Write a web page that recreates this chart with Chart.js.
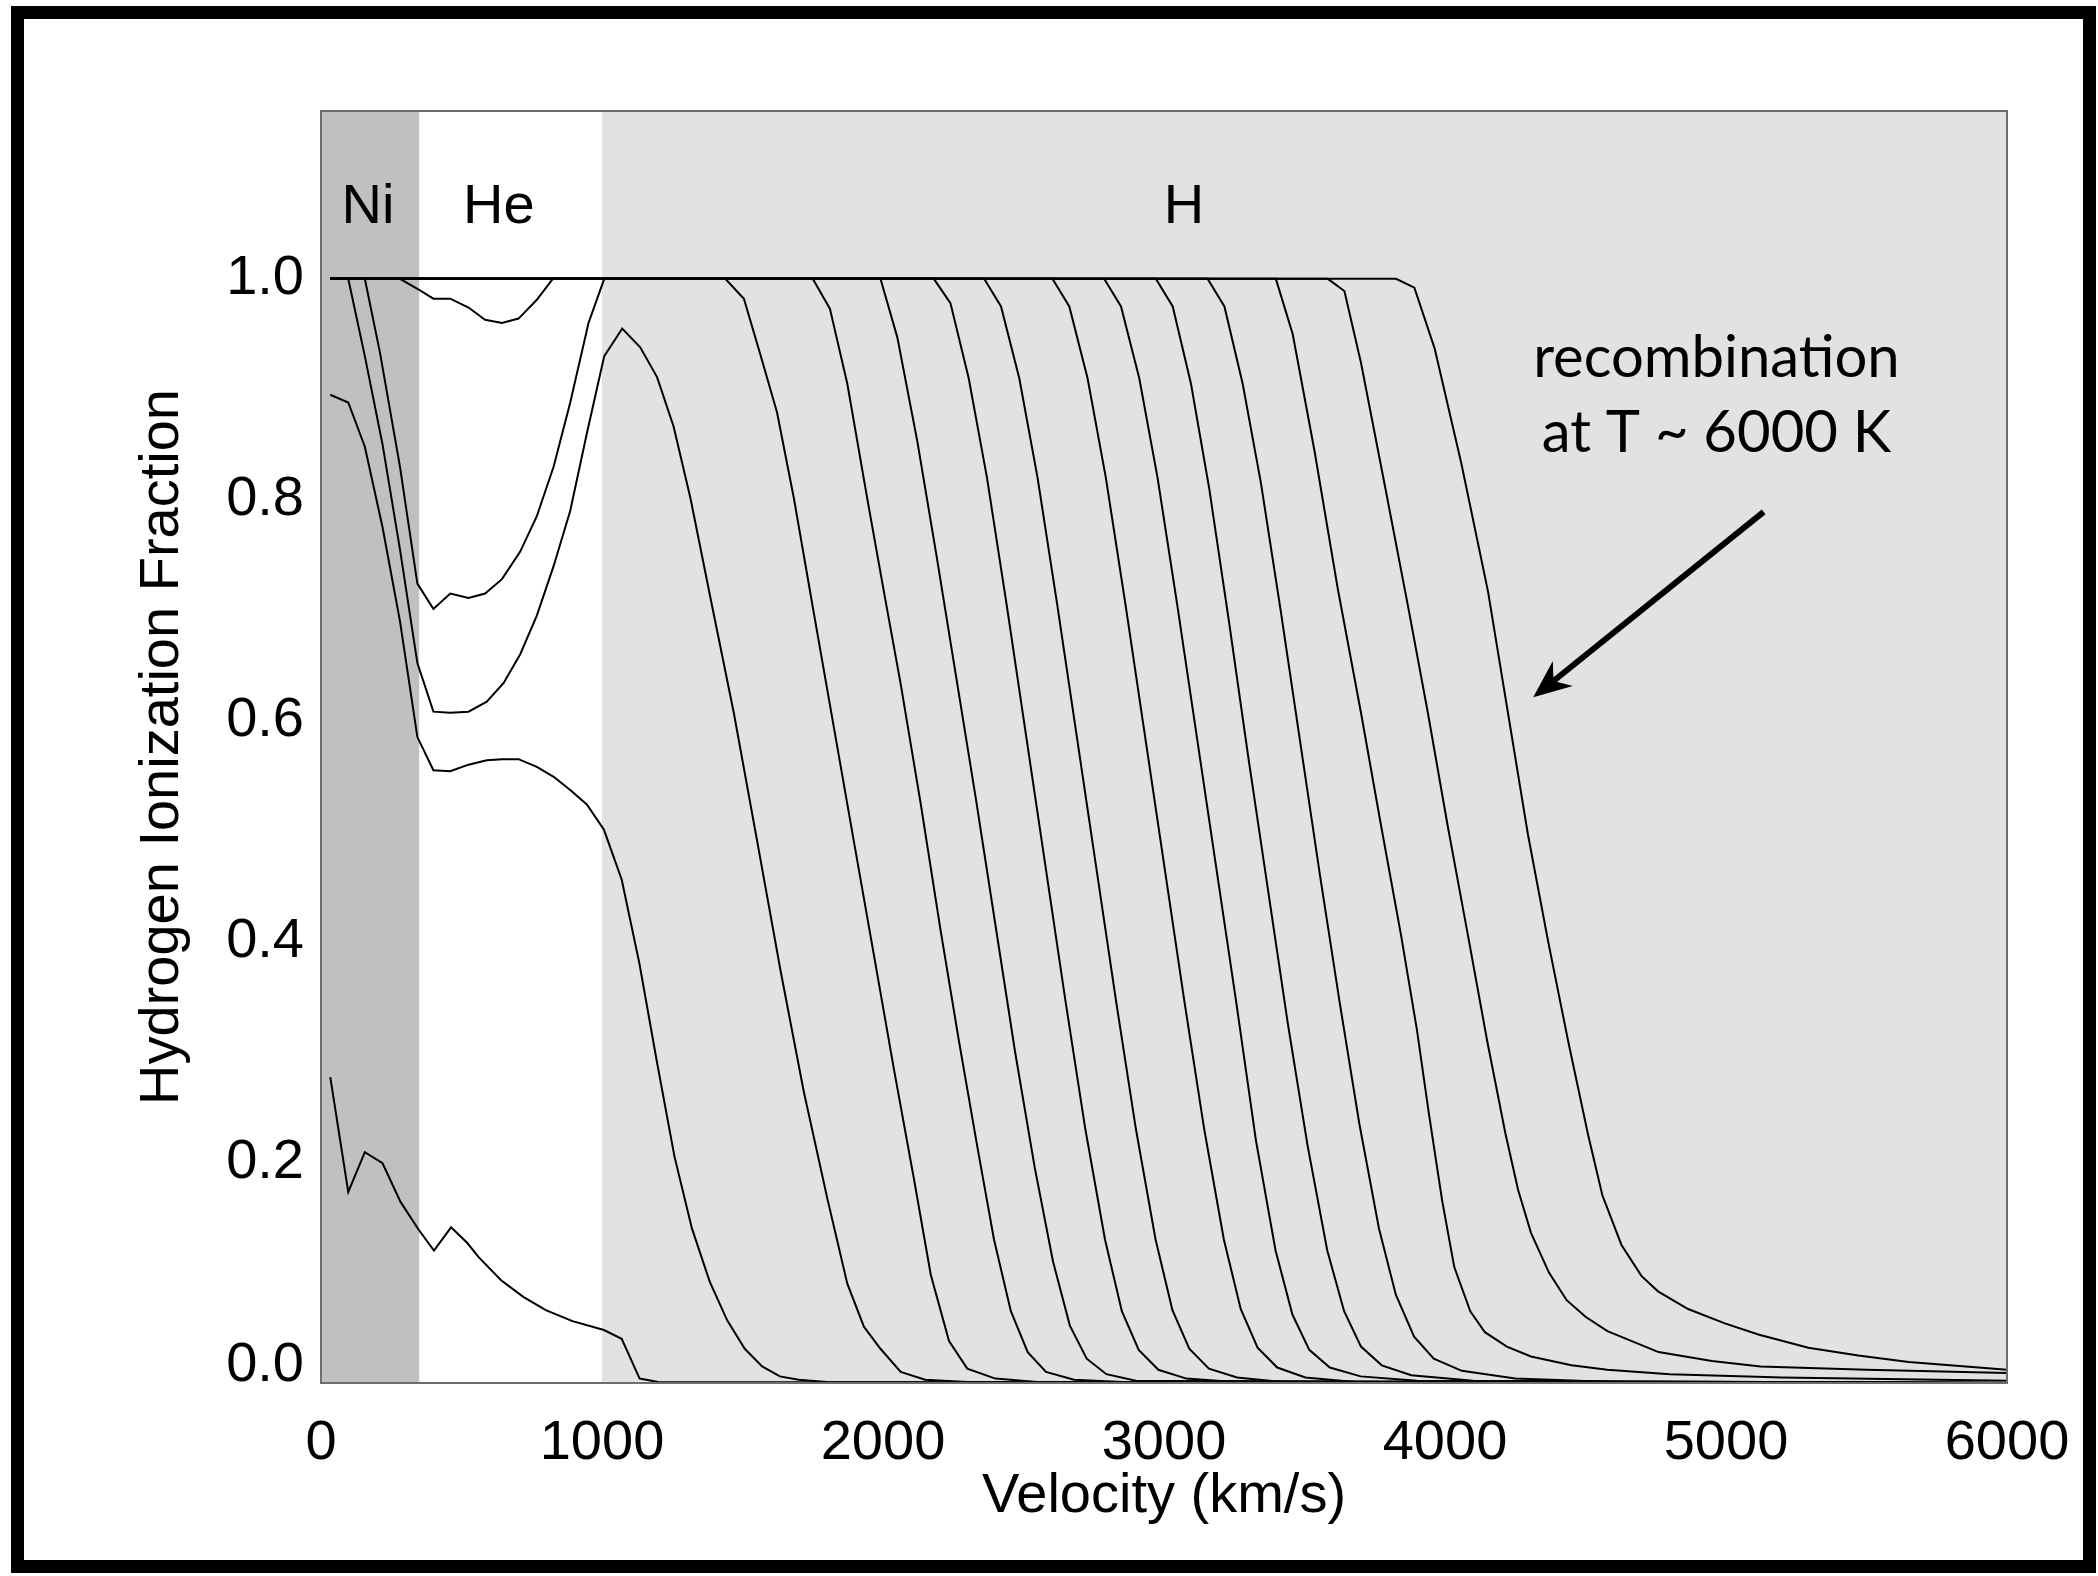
<!DOCTYPE html>
<html>
<head>
<meta charset="utf-8">
<script src="https://cdn.jsdelivr.net/npm/chart.js@4.4.1/dist/chart.umd.min.js"></script>
<style>
html,body{margin:0;padding:0;background:#fff;}
#wrap{position:absolute;left:0;top:0;width:2098px;height:1576px;}
canvas{display:block;}
</style>
</head>
<body>
<div id="wrap"><canvas id="c" width="2098" height="1576"></canvas></div>
<script>
// ---------------- data ----------------
const xTickValues = [0, 1000, 2000, 3000, 4000, 5000, 6000];
const yTickValues = [0, 0.2, 0.4, 0.6, 0.8, 1.0];

const regionNames = ['Ni', 'He', 'H'];
const regionStart = [0, 350, 1000];
const regionEnd   = [350, 1000, 6000];

// each curve: [velocity (km/s), hydrogen ionization fraction]
const curveA = [[33,0.277],[97,0.173],[156,0.209],[219,0.199],[283,0.164],[347,0.139],[402,0.120],[463,0.141],[520,0.127],[561,0.114],[641,0.093],[720,0.078],[800,0.066],[895,0.056],[1007,0.048],[1070,0.040],[1134,0.004],[1200,0.001],[6000,0]];
const curveB = [[33,0.895],[97,0.888],[156,0.848],[219,0.775],[281,0.69],[343,0.585],[400,0.555],[460,0.554],[525,0.560],[590,0.564],[644,0.565],[703,0.565],[768,0.558],[828,0.549],[887,0.537],[946,0.524],[1007,0.501],[1070,0.456],[1133,0.38],[1196,0.29],[1258,0.205],[1320,0.14],[1383,0.092],[1445,0.057],[1508,0.031],[1570,0.015],[1633,0.006],[1700,0.003],[1800,0.001],[6000,0]];
const curveC = [[33,1],[97,1],[156,0.93],[219,0.85],[281,0.755],[343,0.652],[400,0.608],[460,0.607],[525,0.608],[590,0.617],[650,0.634],[709,0.66],[768,0.695],[828,0.74],[887,0.79],[946,0.86],[1008,0.93],[1072,0.955],[1136,0.938],[1196,0.911],[1255,0.866],[1315,0.801],[1386,0.711],[1469,0.607],[1552,0.491],[1635,0.374],[1718,0.264],[1802,0.167],[1873,0.09],[1932,0.051],[1991,0.031],[2063,0.01],[2150,0.003],[2300,0.001],[6000,0]];
const curveH1 = [[33,1],[156,1],[210,0.933],[281,0.83],[343,0.724],[400,0.701],[460,0.715],[525,0.711],[584,0.715],[644,0.728],[709,0.753],[768,0.785],[828,0.83],[887,0.888],[952,0.96],[1008,1],[1439,1],[1505,0.982],[1564,0.931],[1623,0.879],[1683,0.801],[1754,0.697],[1825,0.594],[1896,0.491],[1968,0.387],[2039,0.284],[2110,0.185],[2170,0.098],[2235,0.038],[2300,0.013],[2400,0.004],[2550,0.001],[6000,0]];
const curveH2 = [[33,1],[281,1],[343,0.991],[400,0.982],[460,0.982],[525,0.974],[584,0.963],[644,0.96],[703,0.964],[768,0.981],[825,1],[1750,1],[1811,0.973],[1873,0.905],[1944,0.801],[2003,0.717],[2063,0.633],[2134,0.525],[2205,0.41],[2270,0.31],[2335,0.215],[2395,0.13],[2455,0.065],[2515,0.028],[2580,0.01],[2680,0.003],[2850,0.001],[6000,0]];
const curveH3 = [[33,1],[1991,1],[2051,0.947],[2122,0.853],[2190,0.75],[2260,0.64],[2330,0.53],[2400,0.415],[2470,0.30],[2540,0.195],[2605,0.11],[2665,0.052],[2725,0.022],[2795,0.008],[2900,0.002],[6000,0]];
const curveH4 = [[33,1],[2181,1],[2240,0.978],[2305,0.91],[2370,0.82],[2440,0.705],[2510,0.585],[2580,0.465],[2650,0.345],[2720,0.23],[2790,0.13],[2850,0.065],[2910,0.03],[2980,0.012],[3080,0.004],[3250,0.001],[6000,0]];
const curveH5 = [[33,1],[2360,1],[2420,0.975],[2485,0.91],[2550,0.82],[2620,0.705],[2690,0.585],[2760,0.465],[2830,0.345],[2900,0.23],[2970,0.13],[3030,0.066],[3090,0.031],[3160,0.013],[3260,0.005],[3420,0.001],[6000,0]];
const curveH6 = [[33,1],[2603,1],[2663,0.975],[2728,0.91],[2793,0.82],[2863,0.705],[2933,0.585],[3003,0.465],[3073,0.345],[3143,0.23],[3213,0.13],[3273,0.067],[3333,0.032],[3403,0.014],[3503,0.005],[3680,0.001],[6000,0]];
const curveH7 = [[33,1],[2787,1],[2847,0.975],[2912,0.91],[2977,0.82],[3047,0.705],[3117,0.585],[3187,0.465],[3257,0.345],[3327,0.22],[3397,0.12],[3457,0.062],[3517,0.03],[3590,0.014],[3700,0.006],[3900,0.002],[6000,0]];
const curveH8 = [[33,1],[2971,1],[3031,0.975],[3096,0.905],[3161,0.81],[3231,0.69],[3301,0.565],[3371,0.445],[3441,0.325],[3511,0.215],[3581,0.12],[3641,0.065],[3701,0.033],[3775,0.016],[3880,0.007],[4100,0.002],[6000,0]];
const curveH9 = [[33,1],[3155,1],[3215,0.975],[3280,0.905],[3345,0.815],[3415,0.70],[3485,0.58],[3555,0.46],[3625,0.345],[3695,0.235],[3765,0.14],[3825,0.08],[3890,0.042],[3960,0.022],[4060,0.011],[4250,0.004],[4600,0.001],[6000,0]];
const curveH10 = [[33,1],[3398,1],[3458,0.95],[3535,0.845],[3618,0.72],[3701,0.607],[3773,0.504],[3844,0.405],[3900,0.32],[3942,0.245],[3990,0.165],[4033,0.105],[4090,0.065],[4142,0.046],[4220,0.033],[4306,0.024],[4450,0.016],[4578,0.012],[4800,0.008],[5200,0.005],[6000,0.002]];
const curveH11 = [[33,1],[3583,1],[3642,0.989],[3701,0.924],[3785,0.814],[3868,0.704],[3939,0.607],[4010,0.504],[4082,0.405],[4150,0.31],[4215,0.226],[4260,0.175],[4306,0.136],[4370,0.10],[4433,0.075],[4500,0.06],[4578,0.047],[4760,0.028],[4950,0.02],[5123,0.015],[5500,0.012],[6000,0.009]];
const curveH12 = [[33,1],[3826,1],[3891,0.992],[3963,0.937],[4058,0.833],[4153,0.717],[4224,0.607],[4295,0.497],[4367,0.40],[4438,0.31],[4509,0.225],[4560,0.17],[4628,0.125],[4699,0.097],[4758,0.083],[4865,0.067],[4996,0.054],[5115,0.044],[5293,0.032],[5471,0.025],[5650,0.019],[6000,0.012]];

const curves = [curveA, curveB, curveC, curveH1, curveH2, curveH3, curveH4, curveH5, curveH6, curveH7, curveH8, curveH9, curveH10, curveH11, curveH12];

// ---------------- styling / layout ----------------
const SANS = '"Liberation Sans", Arial, Helvetica, sans-serif';
const HUMAN = 'Lato, "Open Sans", sans-serif';
const regionFill = ['#c0c0c0', '#ffffff', '#e2e2e2'];
const regionLabelX = [167, 633, 3071];   // label anchor (data units)
const regionLabelY = 1.051;
const noteLines = ['recombination', 'at T ~ 6000 K'];
const noteX = 4966, noteY = [0.911, 0.843];
const arrowFrom = [5134, 0.789], arrowTo = [4314, 0.621];

const regionsPlugin = {
  id: 'regions',
  beforeDatasetsDraw(chart) {
    const {ctx, chartArea: a, scales: {x}} = chart;
    ctx.save();
    regionNames.forEach((n, i) => {
      const x0 = x.getPixelForValue(regionStart[i]);
      const x1 = x.getPixelForValue(regionEnd[i]);
      ctx.fillStyle = regionFill[i];
      ctx.fillRect(x0, a.top, x1 - x0, a.bottom - a.top);
    });
    ctx.restore();
  },
  afterDatasetsDraw(chart) {
    const {ctx, chartArea: a, scales: {x, y}} = chart;
    ctx.save();
    ctx.strokeStyle = '#6e6e6e';
    ctx.lineWidth = 2;
    ctx.strokeRect(a.left, a.top, a.right - a.left, a.bottom - a.top);
    ctx.fillStyle = '#000';
    ctx.font = '56px ' + SANS;
    ctx.textAlign = 'center';
    ctx.textBaseline = 'alphabetic';
    regionNames.forEach((n, i) => {
      ctx.fillText(n, x.getPixelForValue(regionLabelX[i]), y.getPixelForValue(regionLabelY));
    });
    // annotation
    ctx.font = '58px ' + HUMAN;
    noteLines.forEach((t, i) => {
      ctx.fillText(t, x.getPixelForValue(noteX), y.getPixelForValue(noteY[i]));
    });
    const x1 = x.getPixelForValue(arrowFrom[0]), y1 = y.getPixelForValue(arrowFrom[1]);
    const x2 = x.getPixelForValue(arrowTo[0]), y2 = y.getPixelForValue(arrowTo[1]);
    const ang = Math.atan2(y2 - y1, x2 - x1);
    const ux = Math.cos(ang), uy = Math.sin(ang), nx = -uy, ny = ux;
    const headLen = 38, headW = 16, notch = 26;
    ctx.strokeStyle = '#000';
    ctx.lineWidth = 6;
    ctx.lineCap = 'butt';
    ctx.beginPath();
    ctx.moveTo(x1, y1);
    ctx.lineTo(x2 - ux * notch, y2 - uy * notch);
    ctx.stroke();
    ctx.beginPath();
    ctx.moveTo(x2, y2);
    ctx.lineTo(x2 - ux * headLen + nx * headW, y2 - uy * headLen + ny * headW);
    ctx.lineTo(x2 - ux * notch, y2 - uy * notch);
    ctx.lineTo(x2 - ux * headLen - nx * headW, y2 - uy * headLen - ny * headW);
    ctx.closePath();
    ctx.fill();
    ctx.restore();
  },
  afterDraw(chart) {
    const {ctx} = chart;
    ctx.save();
    ctx.strokeStyle = '#000';
    ctx.lineWidth = 13;
    ctx.strokeRect(17.5, 12.5, 2072, 1554);
    ctx.restore();
  }
};

const zeroLabelPlugin = {
  id: 'zeroLabel',
  beforeDraw(chart) {
    const items = chart.scales.y.getLabelItems();
    items.forEach(it => {
      if (it.label === '0.0' && !it._shifted) {
        it.options.translation[1] -= 17;
        it._shifted = true;
      }
    });
  }
};

const datasets = curves.map(c => ({
  data: c.map(p => ({x: p[0], y: p[1]})),
  showLine: true,
  borderColor: '#000',
  borderWidth: 2,
  pointRadius: 0,
  tension: 0,
  fill: false
}));

new Chart(document.getElementById('c'), {
  type: 'scatter',
  data: {datasets},
  options: {
    responsive: false,
    animation: false,
    devicePixelRatio: 1,
    layout: {padding: {left: 0, right: 91, top: 111, bottom: 0}},
    plugins: {legend: {display: false}, tooltip: {enabled: false}},
    scales: {
      x: {
        type: 'linear', min: 0, max: 6000,
        afterBuildTicks: s => { s.ticks = xTickValues.map(v => ({value: v})); },
        afterFit: s => { s.height = 193; },
        grid: {display: false, drawTicks: false},
        border: {display: false},
        ticks: {color: '#000', font: {family: SANS, size: 56}, padding: 27, maxRotation: 0, autoSkip: false,
                callback: v => String(v)},
        title: {display: true, text: 'Velocity (km/s)', color: '#000', font: {family: SANS, size: 56},
                padding: {top: 0, bottom: 46}}
      },
      y: {
        type: 'linear', min: 0, max: 1.152,
        afterBuildTicks: s => { s.ticks = yTickValues.map(v => ({value: v})); },
        afterFit: s => { s.width = 321; },
        grid: {display: false, drawTicks: false},
        border: {display: false},
        ticks: {color: '#000', font: {family: SANS, size: 56}, padding: 17,
                callback: v => Number(v).toFixed(1)},
        title: {display: true, text: 'Hydrogen Ionization Fraction', color: '#000', font: {family: SANS, size: 56},
                padding: {top: 129, bottom: 0}}
      }
    }
  },
  plugins: [regionsPlugin, zeroLabelPlugin]
});
</script>
</body>
</html>
